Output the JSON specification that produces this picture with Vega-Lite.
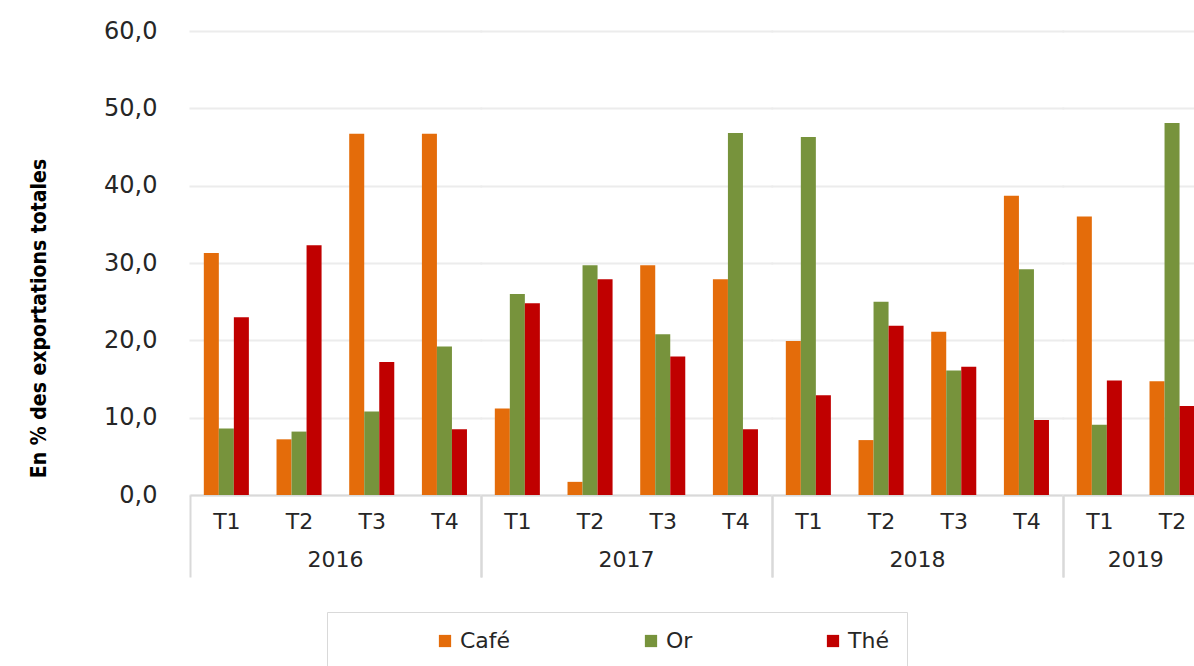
{
  "$schema": "https://vega.github.io/schema/vega-lite/v6.json",
  "padding": {"left": 28, "top": 19, "right": 0, "bottom": 0},
  "background": "white",
  "bounds": "flush",
  "data": {
    "values": [
      {"annee": "2016", "trimestre": "T1", "produit": "Café", "valeur": 31.3},
      {"annee": "2016", "trimestre": "T1", "produit": "Or", "valeur": 8.6},
      {"annee": "2016", "trimestre": "T1", "produit": "Thé", "valeur": 23.0},
      {"annee": "2016", "trimestre": "T2", "produit": "Café", "valeur": 7.2},
      {"annee": "2016", "trimestre": "T2", "produit": "Or", "valeur": 8.2},
      {"annee": "2016", "trimestre": "T2", "produit": "Thé", "valeur": 32.3},
      {"annee": "2016", "trimestre": "T3", "produit": "Café", "valeur": 46.7},
      {"annee": "2016", "trimestre": "T3", "produit": "Or", "valeur": 10.8},
      {"annee": "2016", "trimestre": "T3", "produit": "Thé", "valeur": 17.2},
      {"annee": "2016", "trimestre": "T4", "produit": "Café", "valeur": 46.7},
      {"annee": "2016", "trimestre": "T4", "produit": "Or", "valeur": 19.2},
      {"annee": "2016", "trimestre": "T4", "produit": "Thé", "valeur": 8.5},
      {"annee": "2017", "trimestre": "T1", "produit": "Café", "valeur": 11.2},
      {"annee": "2017", "trimestre": "T1", "produit": "Or", "valeur": 26.0},
      {"annee": "2017", "trimestre": "T1", "produit": "Thé", "valeur": 24.8},
      {"annee": "2017", "trimestre": "T2", "produit": "Café", "valeur": 1.7},
      {"annee": "2017", "trimestre": "T2", "produit": "Or", "valeur": 29.7},
      {"annee": "2017", "trimestre": "T2", "produit": "Thé", "valeur": 27.9},
      {"annee": "2017", "trimestre": "T3", "produit": "Café", "valeur": 29.7},
      {"annee": "2017", "trimestre": "T3", "produit": "Or", "valeur": 20.8},
      {"annee": "2017", "trimestre": "T3", "produit": "Thé", "valeur": 17.9},
      {"annee": "2017", "trimestre": "T4", "produit": "Café", "valeur": 27.9},
      {"annee": "2017", "trimestre": "T4", "produit": "Or", "valeur": 46.8},
      {"annee": "2017", "trimestre": "T4", "produit": "Thé", "valeur": 8.5},
      {"annee": "2018", "trimestre": "T1", "produit": "Café", "valeur": 19.9},
      {"annee": "2018", "trimestre": "T1", "produit": "Or", "valeur": 46.3},
      {"annee": "2018", "trimestre": "T1", "produit": "Thé", "valeur": 12.9},
      {"annee": "2018", "trimestre": "T2", "produit": "Café", "valeur": 7.1},
      {"annee": "2018", "trimestre": "T2", "produit": "Or", "valeur": 25.0},
      {"annee": "2018", "trimestre": "T2", "produit": "Thé", "valeur": 21.9},
      {"annee": "2018", "trimestre": "T3", "produit": "Café", "valeur": 21.1},
      {"annee": "2018", "trimestre": "T3", "produit": "Or", "valeur": 16.1},
      {"annee": "2018", "trimestre": "T3", "produit": "Thé", "valeur": 16.6},
      {"annee": "2018", "trimestre": "T4", "produit": "Café", "valeur": 38.7},
      {"annee": "2018", "trimestre": "T4", "produit": "Or", "valeur": 29.2},
      {"annee": "2018", "trimestre": "T4", "produit": "Thé", "valeur": 9.7},
      {"annee": "2019", "trimestre": "T1", "produit": "Café", "valeur": 36.0},
      {"annee": "2019", "trimestre": "T1", "produit": "Or", "valeur": 9.1},
      {"annee": "2019", "trimestre": "T1", "produit": "Thé", "valeur": 14.8},
      {"annee": "2019", "trimestre": "T2", "produit": "Café", "valeur": 14.7},
      {"annee": "2019", "trimestre": "T2", "produit": "Or", "valeur": 48.1},
      {"annee": "2019", "trimestre": "T2", "produit": "Thé", "valeur": 11.5}
    ]
  },
  "facet": {
    "column": {
      "field": "annee",
      "type": "ordinal",
      "header": {
        "title": null,
        "labelOrient": "bottom",
        "labelPadding": 55,
        "labelFont": "DejaVu Sans",
        "labelFontSize": 22,
        "labelColor": "#262626"
      }
    }
  },
  "spacing": 0,
  "resolve": {"scale": {"x": "independent"}},
  "spec": {
    "width": {"step": 15.02},
    "height": 464,
    "mark": {"type": "bar"},
    "encoding": {
      "x": {
        "field": "trimestre",
        "type": "nominal",
        "title": null,
        "scale": {"paddingInner": 0, "paddingOuter": 0},
        "axis": {
          "labelAngle": 0,
          "labelFont": "DejaVu Sans",
          "labelFontSize": 22,
          "labelColor": "#262626",
          "labelPadding": {"condition": {"test": "datum.value === 'T4'", "value": -66}, "value": 16},
          "domainColor": "#d9d9d9",
          "domainWidth": 2,
          "tickBand": "extent",
          "tickColor": "#d9d9d9",
          "tickWidth": 2,
          "tickSize": {"condition": {"test": "datum.value === 'T4' || datum.extra", "value": 82}, "value": 0}
        }
      },
      "xOffset": {"field": "produit", "type": "nominal", "scale": {"paddingInner": 0, "paddingOuter": 0.92}},
      "y": {
        "field": "valeur",
        "type": "quantitative",
        "title": "En % des exportations totales",
        "scale": {"domain": [0, 60]},
        "axis": {
          "values": [0, 10, 20, 30, 40, 50, 60],
          "labelExpr": "replace(format(datum.value, '.1f'), '.', ',')",
          "labelFont": "DejaVu Sans",
          "labelFontSize": 24,
          "labelColor": "#262626",
          "labelPadding": 33,
          "domain": false,
          "ticks": false,
          "gridColor": "#ececec",
          "gridWidth": 2,
          "gridCap": "square",
          "titleFont": "DejaVu Sans Condensed",
          "titleFontSize": 21,
          "titleFontWeight": "bold",
          "titleColor": "#000000",
          "titlePadding": 54,
          "titleY": 287
        }
      },
      "color": {
        "field": "produit",
        "type": "nominal",
        "title": null,
        "scale": {"domain": ["Café", "Or", "Thé"], "range": ["#E46C0A", "#77933C", "#C00000"]},
        "legend": {
          "orient": "none",
          "legendX": 137,
          "legendY": 581,
          "direction": "horizontal",
          "symbolType": "square",
          "symbolSize": 150,
          "symbolStrokeWidth": 0,
          "symbolOffset": 89,
          "labelFont": "DejaVu Sans",
          "labelFontSize": 22,
          "labelColor": "#262626",
          "columnPadding": 40,
          "padding": 18,
          "strokeColor": "#d9d9d9"
        }
      }
    }
  },
  "config": {
    "view": {"stroke": null}
  }
}
